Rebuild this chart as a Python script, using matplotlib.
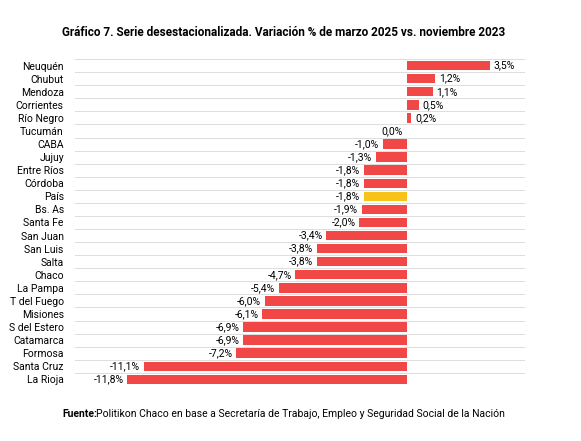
import matplotlib
matplotlib.use("Agg")
import matplotlib.pyplot as plt

plt.rcParams['font.family'] = ['Roboto', 'DejaVu Sans']

provincias = ["Neuquén", "Chubut", "Mendoza", "Corrientes", "Río Negro", "Tucumán",
              "CABA", "Jujuy", "Entre Ríos", "Córdoba", "País", "Bs. As", "Santa Fe",
              "San Juan", "San Luis", "Salta", "Chaco", "La Pampa", "T del Fuego",
              "Misiones", "S del Estero", "Catamarca", "Formosa", "Santa Cruz", "La Rioja"]
variacion = [3.5, 1.2, 1.1, 0.5, 0.2, 0.0, -1.0, -1.3, -1.8, -1.8, -1.8, -1.9, -2.0,
             -3.4, -3.8, -3.8, -4.7, -5.4, -6.0, -6.1, -6.9, -6.9, -7.2, -11.1, -11.8]

rojo = "#f24747"
amarillo = "#f7c31b"

fig = plt.figure(figsize=(5.81, 4.41), dpi=100)
ax = fig.add_axes([0.129, 0.125, 0.775, 0.741])

y = list(range(len(provincias)))
colores = [amarillo if p == "País" else rojo for p in provincias]
ax.barh(y, variacion, height=0.72, color=colores, zorder=2)

for i, v in enumerate(variacion):
    txt = f"{v:.1f}%".replace(".", ",")
    if v > 0:
        ax.text(v + 0.15, i, txt, va="center", ha="left", fontsize=7.5)
    else:
        ax.text(v - 0.15, i, txt, va="center", ha="right", fontsize=7.5)

for b in range(len(provincias) + 1):
    ax.axhline(b - 0.5, color="#dddddd", linewidth=0.7, zorder=1)

ax.set_xlim(-14, 5)
ax.set_ylim(len(provincias) - 0.5, -0.5)
ax.set_yticks(y)
ax.set_yticklabels(provincias, fontsize=7.5)
ax.tick_params(axis="y", length=0, pad=8)
ax.set_xticks([])
for s in ax.spines.values():
    s.set_visible(False)

fig.text(0.488, 0.927, "Gráfico 7. Serie desestacionalizada. Variación % de marzo 2025 vs. noviembre 2023",
         ha="center", va="center", fontsize=8.5, fontweight="bold")
fig.text(0.108, 0.061, "Fuente:", ha="left", va="center", fontsize=7.5, fontweight="bold")
fig.text(0.166, 0.061, "Politikon Chaco en base a Secretaría de Trabajo, Empleo y Seguridad Social de la Nación",
         ha="left", va="center", fontsize=7.5)

fig.savefig("out.png", dpi=100)
